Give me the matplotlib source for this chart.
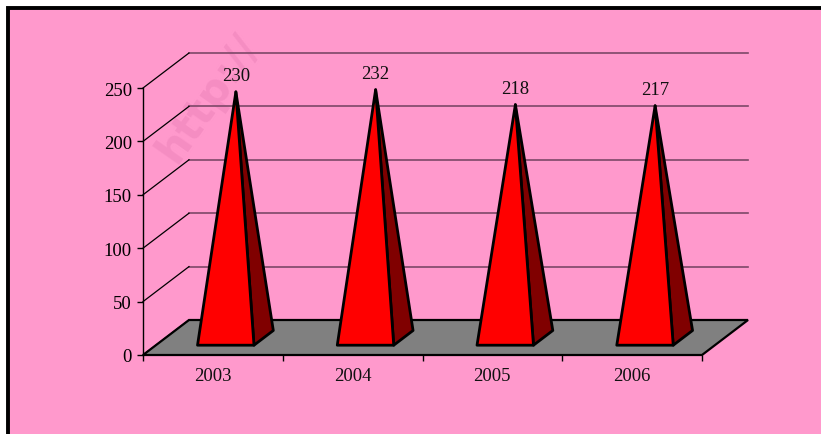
import matplotlib
matplotlib.use("Agg")
import matplotlib.pyplot as plt
from matplotlib.patches import Polygon, Rectangle

# ---- data ----
years = ["2003", "2004", "2005", "2006"]
values = [230, 232, 218, 217]
yticks = [0, 50, 100, 150, 200, 250]

# ---- style ----
PINK = "#FF99CC"
FONT = "Liberation Serif"
FS = 13.5

W, H = 821, 435
fig = plt.figure(figsize=(W / 100, H / 100), dpi=100)
fig.patch.set_facecolor("white")

# outer chart frame (pink area with black border, cropped right/bottom)
fig.patches.append(Rectangle((8 / W, -0.2), 2.0, 1.2 - 9 / H,
                             transform=fig.transFigure, facecolor=PINK,
                             edgecolor="black", linewidth=2.8, zorder=-2))

# faint watermark
fig.text(208 / W, 1 - 98 / H, "http://", fontsize=30, fontweight="bold",
         family="DejaVu Sans", color="#F58DC2", rotation=55,
         ha="center", va="center", zorder=-1)

# front plane axes: x in category units, y in value units
x0, x1, yb, yt = 143, 702, 356, 89
ax = fig.add_axes([x0 / W, (H - yb) / H, (x1 - x0) / W, (yb - yt) / H])
ax.set_xlim(0, len(years))
ax.set_ylim(0, 250)
ax.patch.set_alpha(0)

px_per_cat = (x1 - x0) / len(years)
px_per_val = (yb - yt) / 250
dxd = 46 / px_per_cat       # depth offset in category units
dyd = 35 / px_per_val       # depth offset in value units
n = len(years)

# floor
ax.add_patch(Polygon([(0, 0), (n, 0), (n + dxd, dyd), (dxd, dyd)],
                     closed=True, facecolor="#808080", edgecolor="black",
                     linewidth=1.6, clip_on=False, zorder=2))

# back-wall gridlines and side-wall diagonals
for v in yticks:
    if v > 0:
        ax.plot([dxd, n + dxd], [v + dyd, v + dyd], color="#7d4868",
                linewidth=1.2, clip_on=False, zorder=1)
    ax.plot([0, dxd], [v, v + dyd], color="black", linewidth=0.9,
            clip_on=False, zorder=1)

# pyramids
hw = 0.202
f1, f2 = 0.28, 0.70
for i, v in enumerate(values):
    cx = i + 0.5
    fl = (cx - hw + f1 * dxd, f1 * dyd)
    fr = (cx + hw + f1 * dxd, f1 * dyd)
    br = (cx + hw + f2 * dxd, f2 * dyd)
    apex = (cx + 0.5 * dxd, v + 0.5 * dyd)
    ax.add_patch(Polygon([fr, br, apex], closed=True, facecolor="#800000",
                         edgecolor="black", linewidth=2.0, joinstyle="round",
                         clip_on=False, zorder=3))
    ax.add_patch(Polygon([fl, fr, apex], closed=True, facecolor="#FF0000",
                         edgecolor="black", linewidth=2.0, joinstyle="round",
                         clip_on=False, zorder=4))
    ax.annotate(str(v), apex, xytext=(0, 12), textcoords="offset points",
                ha="center", va="center", fontsize=FS, family=FONT,
                color="#111111", zorder=5)

# axes styling
for s in ("top", "right"):
    ax.spines[s].set_visible(False)
ax.spines["left"].set_linewidth(1.0)
ax.spines["bottom"].set_visible(False)

ax.set_yticks(yticks)
ax.set_yticklabels([str(t) for t in yticks], fontsize=FS, family=FONT,
                   color="#111111")
ax.tick_params(axis="y", direction="out", length=4, width=1, pad=4,
               colors="black")

ax.set_xticks(range(n + 1))
ax.set_xticklabels([])
ax.tick_params(axis="x", which="major", direction="out", length=4, width=1)
ax.set_xticks([i + 0.5 for i in range(n)], minor=True)
ax.set_xticklabels(years, minor=True, fontsize=FS, family=FONT,
                   color="#111111")
ax.tick_params(axis="x", which="minor", length=0, pad=9)

fig.savefig("out.png", dpi=100, facecolor=fig.get_facecolor())
